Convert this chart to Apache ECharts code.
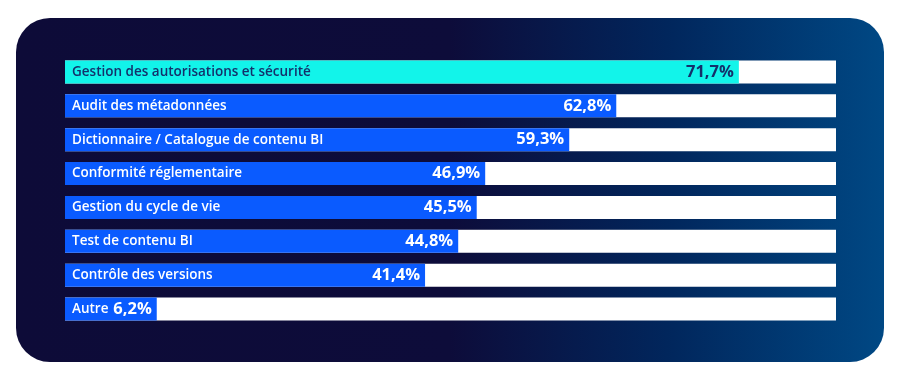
<!DOCTYPE html>
<html>
<head>
<meta charset="utf-8">
<script src="https://cdn.jsdelivr.net/npm/echarts@6/dist/echarts.min.js"></script>
<style>
html,body{margin:0;padding:0;background:#ffffff;}
#chart{width:900px;height:381px;}
</style>
</head>
<body>
<div id="chart"></div>
<script>
// Categories, top to bottom
const categories = [
  "Gestion des autorisations et sécurité",
  "Audit des métadonnées",
  "Dictionnaire / Catalogue de contenu BI",
  "Conformité réglementaire",
  "Gestion du cycle de vie",
  "Test de contenu BI",
  "Contrôle des versions",
  "Autre"
];
// Values printed on the bars (%)
const values = [71.7, 62.8, 59.3, 46.9, 45.5, 44.8, 41.4, 6.2];
// Bar lengths as drawn in the infographic (share of the white track, %)
const barShare = [87.4, 71.5, 65.4, 54.5, 53.4, 51.0, 46.7, 11.9];
// Highlighted first item
const highlight = [true, false, false, false, false, false, false, false];

const CYAN = "#12f4ea";
const BLUE = "#0a5bff";
const NAVY = "#14306b";
const FONT = "'Open Sans', 'Noto Sans', sans-serif";

const chart = echarts.init(document.getElementById('chart'), null, {renderer: 'canvas'});

const fmt = v => v.toFixed(1).replace('.', ',') + '%';

const nameData = barShare.map((s, i) => ({
  value: s,
  itemStyle: {color: highlight[i] ? CYAN : BLUE},
  label: {color: highlight[i] ? NAVY : '#ffffff'}
}));
const valData = barShare.map((s, i) => ({
  value: s,
  label: {color: highlight[i] ? NAVY : '#ffffff'}
}));

chart.setOption({
  animation: false,
  graphic: [{
    type: 'rect',
    z: -10,
    shape: {x: 16, y: 18, width: 868, height: 344, r: 34},
    style: {
      fill: new echarts.graphic.LinearGradient(0, 0, 1, 0, [
        {offset: 0, color: '#0d0b38'},
        {offset: 0.5, color: '#0d0c3a'},
        {offset: 0.75, color: '#01265c'},
        {offset: 1, color: '#004884'}
      ])
    }
  }],
  grid: {left: 65, right: 64, top: 55, bottom: 55, containLabel: false},
  xAxis: {type: 'value', min: 0, max: 100, show: false},
  yAxis: {type: 'category', data: categories, inverse: true, show: false},
  series: [
    {
      type: 'bar',
      data: nameData,
      barWidth: 23,
      showBackground: true,
      backgroundStyle: {color: '#ffffff'},
      label: {
        show: true,
        position: 'insideLeft',
        distance: 7,
        formatter: p => categories[p.dataIndex],
        fontFamily: FONT,
        fontSize: 13.5,
        fontWeight: 600
      },
      z: 2
    },
    {
      type: 'bar',
      data: valData,
      barWidth: 23,
      barGap: '-100%',
      itemStyle: {color: 'rgba(0,0,0,0)'},
      label: {
        show: true,
        position: 'insideRight',
        distance: 5,
        formatter: p => fmt(values[p.dataIndex]),
        fontFamily: FONT,
        fontSize: 16.5,
        fontWeight: 700
      },
      z: 3
    }
  ]
});
</script>
</body>
</html>
